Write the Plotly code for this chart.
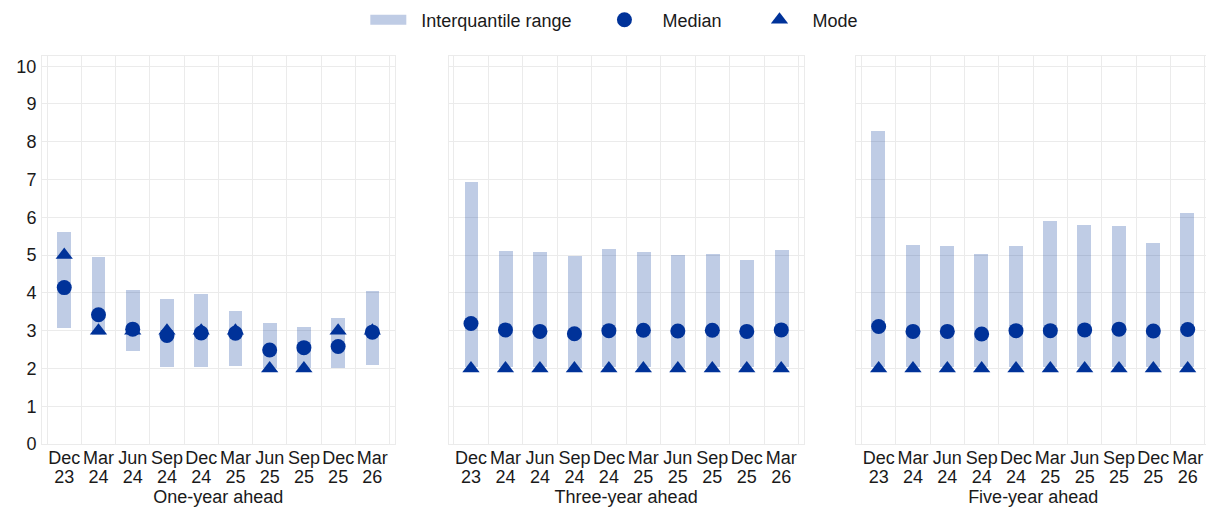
import plotly.graph_objects as go

months = ["Dec", "Mar", "Jun", "Sep", "Dec", "Mar", "Jun", "Sep", "Dec", "Mar"]
years = ["23", "24", "24", "24", "24", "25", "25", "25", "25", "26"]
panel_titles = ["One-year ahead", "Three-year ahead", "Five-year ahead"]

# One-year ahead
one_low = [3.06, 2.88, 2.47, 2.03, 2.05, 2.07, 2.0, 2.0, 2.01, 2.08]
one_high = [5.6, 4.95, 4.08, 3.85, 3.97, 3.53, 3.19, 3.1, 3.34, 4.04]
one_median = [4.14, 3.42, 3.04, 2.87, 2.94, 2.93, 2.49, 2.55, 2.58, 2.96]
one_mode = [5, 3, 3, 3, 3, 3, 2, 2, 3, 3]

# Three-year ahead
three_low = [2.05, 2.05, 2.05, 2.0, 2.05, 2.05, 2.0, 2.05, 2.05, 2.05]
three_high = [6.93, 5.1, 5.07, 4.97, 5.15, 5.07, 5.01, 5.04, 4.87, 5.14]
three_median = [3.19, 3.02, 2.98, 2.92, 3.0, 3.01, 2.99, 3.01, 2.98, 3.02]
three_mode = [2, 2, 2, 2, 2, 2, 2, 2, 2, 2]

# Five-year ahead
five_low = [2.03, 2.03, 2.03, 2.03, 2.03, 2.03, 2.03, 2.03, 2.03, 2.03]
five_high = [8.28, 5.28, 5.25, 5.03, 5.23, 5.89, 5.79, 5.77, 5.31, 6.12]
five_median = [3.11, 2.98, 2.98, 2.91, 3.0, 3.0, 3.02, 3.04, 2.99, 3.03]
five_mode = [2, 2, 2, 2, 2, 2, 2, 2, 2, 2]

panels = [
    (one_low, one_high, one_median, one_mode),
    (three_low, three_high, three_median, three_mode),
    (five_low, five_high, five_median, five_mode),
]

BAR_COLOR = "rgba(0,50,153,0.25)"
DARK = "#003299"
GRID = "#ebebeb"
FONT = "Liberation Sans, Arial, sans-serif"
TXT = "#1a1a1a"
NB = "\u00a0"

xpos = list(range(len(months)))
domains = [[0.0, 0.3019], [0.3481, 0.6521], [0.6972, 1.0]]

fig = go.Figure()
# legend-only entry for the interquantile range (wide rectangle symbol)
fig.add_trace(go.Scatter(
    x=[None], y=[None], mode="lines", line=dict(color=BAR_COLOR, width=16),
    name=NB * 2 + "Interquantile range" + NB * 5, legendrank=1, xaxis="x", yaxis="y"))
for i, (low, high, med, mode) in enumerate(panels):
    xa = "x" if i == 0 else f"x{i+1}"
    ya = "y" if i == 0 else f"y{i+1}"
    fig.add_trace(go.Bar(
        x=xpos, y=[h - l for h, l in zip(high, low)], base=low,
        width=0.4, marker=dict(color=BAR_COLOR, line=dict(width=0)),
        name="Interquantile range", showlegend=False,
        xaxis=xa, yaxis=ya, hoverinfo="skip"))
    fig.add_trace(go.Scatter(
        x=xpos, y=mode, mode="markers",
        marker=dict(symbol="triangle-up", size=15, color=DARK),
        name=NB * 2 + "Mode", showlegend=(i == 0), legendrank=3,
        xaxis=xa, yaxis=ya))
    fig.add_trace(go.Scatter(
        x=xpos, y=med, mode="markers",
        marker=dict(symbol="circle", size=15, color=DARK),
        name=NB * 3 + "Median" + NB * 6, showlegend=(i == 0), legendrank=2,
        xaxis=xa, yaxis=ya))
    # carrier trace for the year-label overlay axis
    fig.add_trace(go.Scatter(
        x=xpos, y=[None] * len(xpos), mode="markers", showlegend=False,
        hoverinfo="skip", xaxis=f"x{i+4}", yaxis=ya))

layout = dict(
    width=1206, height=500,
    margin=dict(l=34, r=4, t=48, b=64, autoexpand=False),
    plot_bgcolor="white", paper_bgcolor="white",
    font=dict(family=FONT, size=18, color=TXT),
    showlegend=True,
    legend=dict(orientation="h", x=0.49, xanchor="center", y=0.976, yanchor="middle",
                yref="container", font=dict(size=18), itemwidth=36),
    bargap=0,
)
for i in range(3):
    xk = "xaxis" if i == 0 else f"xaxis{i+1}"
    yk = "yaxis" if i == 0 else f"yaxis{i+1}"
    yname = "y" if i == 0 else f"y{i+1}"
    xname = "x" if i == 0 else f"x{i+1}"
    layout[xk] = dict(
        domain=domains[i], anchor=yname, automargin=False,
        range=[-0.65, 9.65], tickmode="array", tickvals=xpos, ticktext=months,
        showgrid=False, zeroline=False, ticks="",
        showline=True, mirror=True, linecolor=GRID, linewidth=1,
        minor=dict(tickmode="linear", tick0=0.5, dtick=1, showgrid=True,
                   gridcolor=GRID, gridwidth=1, ticks=""),
        tickfont=dict(size=18), ticklabelstandoff=-3,
    )
    layout[f"xaxis{i+4}"] = dict(
        overlaying=xname, anchor=yname, side="bottom", automargin=False,
        range=[-0.65, 9.65], tickmode="array", tickvals=xpos, ticktext=years,
        showgrid=False, zeroline=False, ticks="", showline=False,
        tickfont=dict(size=18), ticklabelstandoff=20,
        title=dict(text=panel_titles[i], standoff=0, font=dict(size=18)),
    )
    layout[yk] = dict(
        anchor=xname, automargin=False,
        range=[0, 10.27], tickmode="linear", tick0=0, dtick=1,
        showgrid=True, gridcolor=GRID, gridwidth=1, zeroline=False,
        showline=True, mirror=True, linecolor=GRID, linewidth=1,
        showticklabels=(i == 0), ticks="", tickfont=dict(size=18),
        ticklabelstandoff=1,
    )
    if i > 0:
        layout[yk]["matches"] = "y"
fig.update_layout(**layout)

fig.write_html("out.html")
